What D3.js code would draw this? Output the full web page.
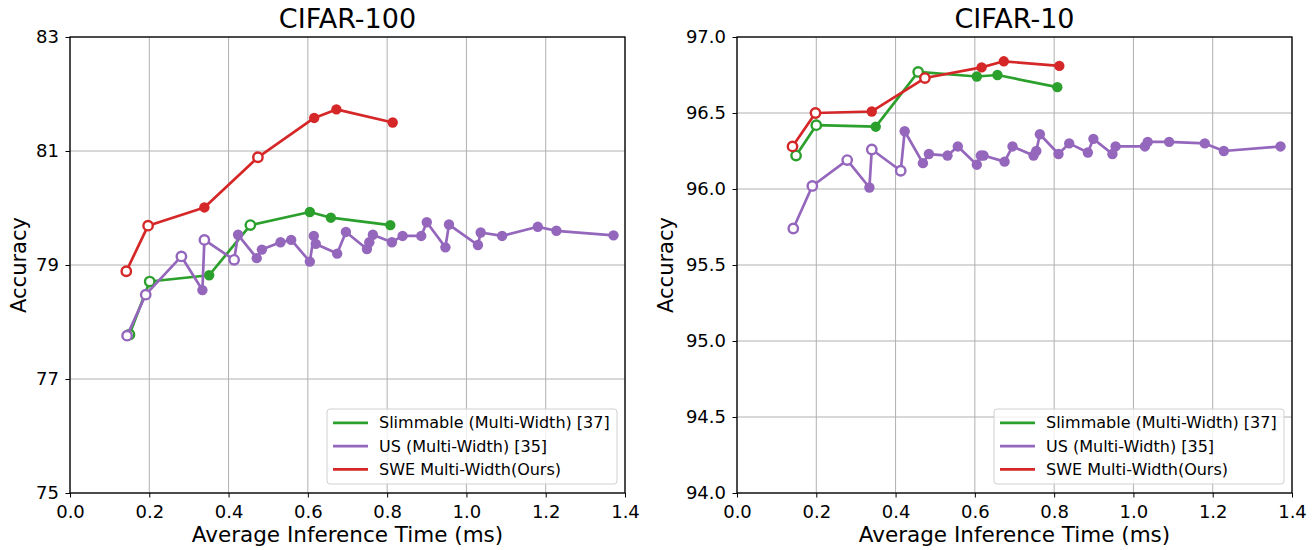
<!DOCTYPE html>
<html>
<head>
<meta charset="utf-8">
<script src="https://cdn.jsdelivr.net/npm/d3@7"></script>
<style>
  body { margin: 0; background: #fff; }
  svg { font-family: "DejaVu Sans", sans-serif; }
</style>
</head>
<body>
<svg id="chart" width="1315" height="550"></svg>
<script>
// ---- CIFAR-100 ----
const slim100Time = [0.150, 0.201, 0.351, 0.455, 0.605, 0.658, 0.808];
const slim100Acc  = [77.78, 78.71, 78.82, 79.70, 79.93, 79.83, 79.70];
const slim100Open = [0, 1, 3];

const us100Time = [0.144, 0.191, 0.281, 0.334, 0.339, 0.414, 0.424, 0.471, 0.484, 0.531, 0.558, 0.605, 0.615, 0.620,
  0.674, 0.696, 0.749, 0.755, 0.764, 0.812, 0.839, 0.886, 0.900, 0.947, 0.956, 1.029, 1.036, 1.090, 1.180, 1.227, 1.371];
const us100Acc = [77.76, 78.48, 79.15, 78.56, 79.44, 79.09, 79.53, 79.12, 79.27, 79.40, 79.44, 79.06, 79.51, 79.37,
  79.20, 79.58, 79.28, 79.40, 79.53, 79.40, 79.51, 79.51, 79.75, 79.31, 79.71, 79.35, 79.57, 79.51, 79.67, 79.60, 79.52];
const us100Open = [0, 1, 2, 4, 5];

const swe100Time = [0.142, 0.197, 0.339, 0.474, 0.616, 0.672, 0.814];
const swe100Acc  = [78.89, 79.69, 80.01, 80.89, 81.58, 81.73, 81.50];
const swe100Open = [0, 1, 3];

// ---- CIFAR-10 ----
const slim10Time = [0.149, 0.200, 0.350, 0.457, 0.605, 0.657, 0.808];
const slim10Acc  = [96.22, 96.42, 96.41, 96.77, 96.74, 96.75, 96.67];
const slim10Open = [0, 1, 3];

const us10Time = [0.142, 0.190, 0.278, 0.334, 0.340, 0.413, 0.423, 0.469, 0.484, 0.531, 0.557, 0.605, 0.615, 0.622,
  0.675, 0.695, 0.748, 0.755, 0.764, 0.811, 0.838, 0.885, 0.899, 0.947, 0.955, 1.029, 1.036, 1.090, 1.180, 1.228, 1.371];
const us10Acc = [95.74, 96.02, 96.19, 96.01, 96.26, 96.12, 96.38, 96.17, 96.23, 96.22, 96.28, 96.16, 96.22, 96.22,
  96.18, 96.28, 96.22, 96.25, 96.36, 96.23, 96.30, 96.24, 96.33, 96.23, 96.28, 96.28, 96.31, 96.31, 96.30, 96.25, 96.28];
const us10Open = [0, 1, 2, 4, 5];

const swe10Time = [0.140, 0.198, 0.340, 0.474, 0.617, 0.673, 0.813];
const swe10Acc  = [96.28, 96.50, 96.51, 96.73, 96.80, 96.84, 96.81];
const swe10Open = [0, 1, 3];

const seriesNames = ["Slimmable (Multi-Width) [37]", "US (Multi-Width) [35]", "SWE Multi-Width(Ours)"];
const seriesColors = ["#2ca02c", "#9467bd", "#d62728"];

const xTicks = [0.0, 0.2, 0.4, 0.6, 0.8, 1.0, 1.2, 1.4];
const yTicks100 = [75, 77, 79, 81, 83];
const yTicks10 = [94.0, 94.5, 95.0, 95.5, 96.0, 96.5, 97.0];

const panels = [
  {
    title: "CIFAR-100", left: 70, yDomain: [75, 83], yTicks: yTicks100, yFmt: d3.format("d"),
    series: [[slim100Time, slim100Acc, slim100Open], [us100Time, us100Acc, us100Open], [swe100Time, swe100Acc, swe100Open]],
    legendX: 327, ylabelOff: -44
  },
  {
    title: "CIFAR-10", left: 737, yDomain: [94, 97], yTicks: yTicks10, yFmt: d3.format(".1f"),
    series: [[slim10Time, slim10Acc, slim10Open], [us10Time, us10Acc, us10Open], [swe10Time, swe10Acc, swe10Open]],
    legendX: 994, ylabelOff: -64
  }
];

const plotTop = 37, plotH = 456, plotW = 555;
const svg = d3.select("#chart");

panels.forEach(p => {
  const g = svg.append("g").attr("transform", `translate(${p.left},${plotTop})`);
  const x = d3.scaleLinear().domain([0, 1.4]).range([0, plotW]);
  const y = d3.scaleLinear().domain(p.yDomain).range([plotH, 0]);

  // grid
  g.append("g").selectAll("line").data(xTicks).join("line")
    .attr("x1", d => x(d)).attr("x2", d => x(d)).attr("y1", 0).attr("y2", plotH)
    .attr("stroke", "#b0b0b0").attr("stroke-width", 1);
  g.append("g").selectAll("line").data(p.yTicks).join("line")
    .attr("y1", d => y(d)).attr("y2", d => y(d)).attr("x1", 0).attr("x2", plotW)
    .attr("stroke", "#b0b0b0").attr("stroke-width", 1);

  // series
  p.series.forEach(([ts, vs, open], si) => {
    const pts = ts.map((t, i) => ({ t, v: vs[i], open: open.includes(i) }));
    const line = d3.line().x(d => x(d.t)).y(d => y(d.v));
    g.append("path").datum(pts)
      .attr("d", line).attr("fill", "none")
      .attr("stroke", seriesColors[si]).attr("stroke-width", 2.7)
      .attr("stroke-linejoin", "round");
    g.append("g").selectAll("circle").data(pts).join("circle")
      .attr("cx", d => x(d.t)).attr("cy", d => y(d.v))
      .attr("r", d => d.open ? 4.7 : 5.2)
      .attr("fill", d => d.open ? "#fff" : seriesColors[si])
      .attr("stroke", seriesColors[si])
      .attr("stroke-width", d => d.open ? 2.4 : 0);
  });

  // axes
  const xAxis = d3.axisBottom(x).tickValues(xTicks).tickFormat(d3.format(".1f")).tickSizeOuter(0).tickSize(4.5);
  const yAxis = d3.axisLeft(y).tickValues(p.yTicks).tickFormat(p.yFmt).tickSizeOuter(0).tickSize(4.5).tickPadding(6.5);
  const gx = g.append("g").attr("transform", `translate(0,${plotH})`).call(xAxis);
  const gy = g.append("g").call(yAxis);
  [gx, gy].forEach(a => {
    a.select(".domain").remove();
    a.selectAll("text").attr("font-size", 18).attr("fill", "#000").attr("font-family", "DejaVu Sans");
    a.selectAll(".tick line").attr("stroke", "#000").attr("stroke-width", 1);
  });
  gx.selectAll("text").attr("y", 25).attr("dy", 0);

  // frame
  g.append("rect").attr("width", plotW).attr("height", plotH)
    .attr("fill", "none").attr("stroke", "#000").attr("stroke-width", 1.3);

  // title and labels
  g.append("text").attr("x", plotW / 2).attr("y", -9).attr("text-anchor", "middle")
    .attr("font-size", 27).text(p.title);
  g.append("text").attr("x", plotW / 2).attr("y", plotH + 48.5).attr("text-anchor", "middle")
    .attr("font-size", 21.5).text("Average Inference Time (ms)");
  g.append("text").attr("transform", `translate(${p.ylabelOff},${plotH / 2}) rotate(-90)`).attr("text-anchor", "middle")
    .attr("font-size", 21).text("Accuracy");

  // legend
  const lg = svg.append("g").attr("transform", `translate(${p.legendX},409)`);
  lg.append("rect").attr("width", 290).attr("height", 75).attr("rx", 3)
    .attr("fill", "#fff").attr("fill-opacity", 0.8).attr("stroke", "#d0d0d0").attr("stroke-width", 1);
  seriesNames.forEach((name, i) => {
    const yy = 13.8 + i * 23.3;
    lg.append("line").attr("x1", 6).attr("x2", 41).attr("y1", yy).attr("y2", yy)
      .attr("stroke", seriesColors[i]).attr("stroke-width", 2.7);
    lg.append("text").attr("x", 52).attr("y", yy).attr("dy", "0.35em")
      .attr("font-size", 16).text(name);
  });
});
</script>
</body>
</html>
